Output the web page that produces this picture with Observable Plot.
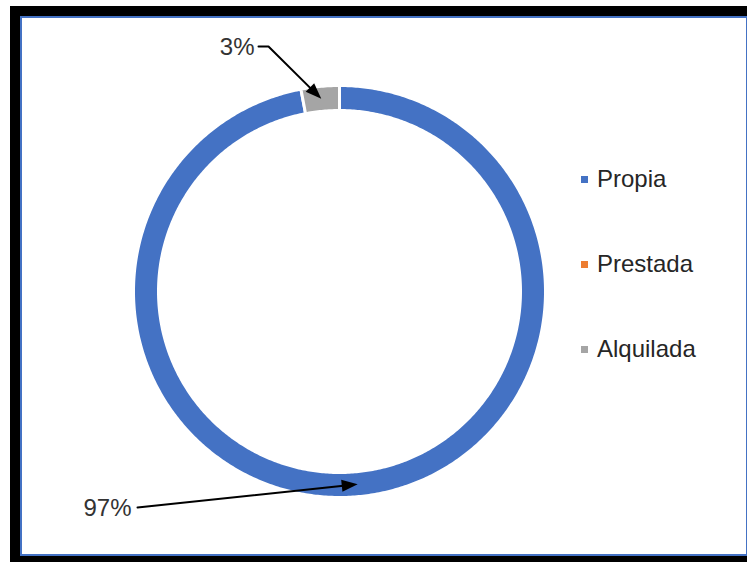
<!DOCTYPE html>
<html>
<head>
<meta charset="utf-8">
<script src="https://cdn.jsdelivr.net/npm/d3@7"></script>
<script src="https://cdn.jsdelivr.net/npm/@observablehq/plot@0.6"></script>
<style>
  html, body { margin: 0; padding: 0; background: #fff; overflow: hidden; width: 747px; height: 562px; }
  #frame { position: absolute; left: 10px; top: 6px; width: 748px; height: 560px; box-sizing: border-box; border: 10px solid #000; }
  #inner { position: absolute; left: 0; top: 0; right: 0; bottom: 0; border: 2px solid #4472C4; }
  #chart { position: absolute; left: 0; top: 0; }
  #legend { position: absolute; left: 0; top: 0; font-family: "Liberation Sans", Arial, sans-serif; font-size: 24px; color: #262626; }
  .item { position: absolute; display: flex; align-items: center; height: 30px; white-space: nowrap; }
  .sw { width: 7px; height: 7px; margin-right: 9px; }
</style>
</head>
<body>
<div id="frame"><div id="inner"></div></div>
<div id="chart"></div>
<div id="legend"></div>
<script>
// ---- data ----
const categories = ["Propia", "Prestada", "Alquilada"];
const values = [97, 0, 3];
const colors = ["#4472C4", "#ED7D31", "#A5A5A5"];

// ---- layout ----
const W = 747, H = 562;
const CX = 339, CY = 291, R_OUT = 206, R_IN = 181;
const R_MID = (R_OUT + R_IN) / 2;
const labelLayout = {
  "Alquilada": { tx: 254, ty: 47, path: [[258, 46], [268, 46]] },
  "Propia":    { tx: 131, ty: 508, path: [[137, 507]] }
};
const HEAD_L = 16, HEAD_W = 12;
const arrowHead = {
  draw(ctx) {
    ctx.moveTo(0, 0);
    ctx.lineTo(-HEAD_W / 2, HEAD_L);
    ctx.lineTo(HEAD_W / 2, HEAD_L);
    ctx.closePath();
  }
};

const total = d3.sum(values);
const arcs = d3.pie().sort(null).value((d, i) => values[i])(categories);

// ring polygons
const ringPts = [];
arcs.forEach((a) => {
  const a0 = a.startAngle, a1 = a.endAngle;
  if (a1 - a0 <= 0) return;
  const n = Math.max(2, Math.ceil((a1 - a0) / 0.01));
  for (let k = 0; k <= n; k++) {
    const t = a0 + (a1 - a0) * k / n;
    ringPts.push({ cat: a.data, x: CX + R_OUT * Math.sin(t), y: CY - R_OUT * Math.cos(t) });
  }
  for (let k = n; k >= 0; k--) {
    const t = a0 + (a1 - a0) * k / n;
    ringPts.push({ cat: a.data, x: CX + R_IN * Math.sin(t), y: CY - R_IN * Math.cos(t) });
  }
});

// labels, leader lines, arrow heads
const labels = [], leaders = [], heads = [];
arcs.forEach((a) => {
  const lay = labelLayout[a.data];
  if (!lay || a.value <= 0) return;
  const mid = (a.startAngle + a.endAngle) / 2;
  const tip = [CX + R_MID * Math.sin(mid), CY - R_MID * Math.cos(mid)];
  const last = lay.path[lay.path.length - 1];
  const dx = tip[0] - last[0], dy = tip[1] - last[1];
  const len = Math.hypot(dx, dy);
  const ux = dx / len, uy = dy / len;
  lay.path.forEach(p => leaders.push({ id: a.data, x: p[0], y: p[1] }));
  leaders.push({ id: a.data, x: tip[0] - ux * HEAD_L * 0.6, y: tip[1] - uy * HEAD_L * 0.6 });
  heads.push({ x: tip[0], y: tip[1], rot: Math.atan2(dx, -dy) * 180 / Math.PI });
  labels.push({ x: lay.tx, y: lay.ty, text: Math.round(a.value / total * 100) + "%" });
});

const chart = Plot.plot({
  width: W, height: H, margin: 0,
  x: { domain: [0, W], range: [0, W], axis: null },
  y: { domain: [0, H], range: [0, H], axis: null },
  color: { domain: categories, range: colors },
  style: { background: "transparent", fontFamily: "Liberation Sans, Arial, sans-serif" },
  marks: [
    Plot.line(ringPts, { x: "x", y: "y", z: "cat", fill: "cat", stroke: "white", strokeWidth: 3, curve: "linear-closed" }),
    Plot.line(leaders, { x: "x", y: "y", z: "id", stroke: "black", strokeWidth: 2 }),
    Plot.dot(heads, { x: "x", y: "y", rotate: "rot", symbol: arrowHead, r: 5, fill: "black", stroke: null }),
    Plot.text(labels, { x: "x", y: "y", text: "text", textAnchor: "end", fontSize: 24, fill: "#333", fontFamily: "Liberation Sans, Arial, sans-serif" })
  ]
});
document.getElementById("chart").appendChild(chart);

// legend
const legend = document.getElementById("legend");
const legendTop = 164, legendStep = 85, legendLeft = 581;
categories.forEach((c, i) => {
  const it = document.createElement("div");
  it.className = "item";
  it.style.left = legendLeft + "px";
  it.style.top = (legendTop + i * legendStep) + "px";
  const sw = document.createElement("span");
  sw.className = "sw";
  sw.style.background = colors[i];
  const tx = document.createElement("span");
  tx.textContent = c;
  it.appendChild(sw); it.appendChild(tx);
  legend.appendChild(it);
});
</script>
</body>
</html>
